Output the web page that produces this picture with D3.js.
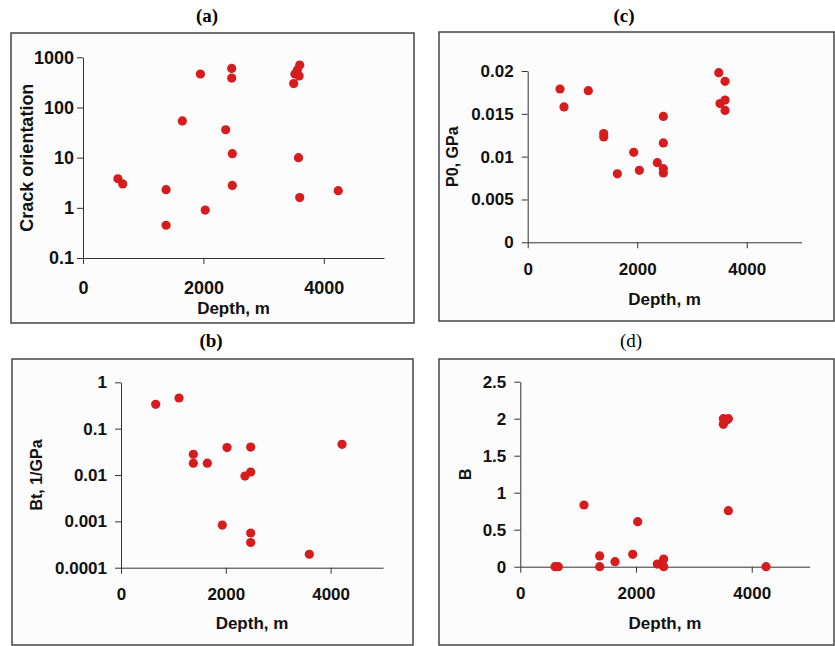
<!DOCTYPE html>
<html>
<head>
<meta charset="utf-8">
<script src="https://cdn.jsdelivr.net/npm/d3@7"></script>
<style>
	body { margin: 0; background: white; }
	.tick text { font-family: 'Liberation Sans', Arial, sans-serif; font-weight: bold; fill: #111; }
	.domain, .tick line { stroke: #333; stroke-width: 1; }
</style>
</head>
<body>
<div id="chart"></div>
<script>
// x ticks shared by all four panels
let depthTicks = [0, 2000, 4000];

// (a) crack orientation
let depthA = [580, 660, 1380, 1380, 1650, 1950, 2030, 2370, 2470, 2470, 2480, 2480, 3500, 3520, 3560, 3590, 3600, 3580, 3600, 4240];
let crackOrientation = [3.8, 3.0, 2.3, 0.45, 54, 465, 0.9, 36, 600, 385, 12, 2.8, 300, 465, 560, 425, 700, 10, 1.6, 2.2];
let crackTicks = [0.1, 1, 10, 100, 1000];

// (b) Bt
let depthB = [662, 1107, 1380, 1380, 1647, 2023, 2475, 2366, 2475, 1933, 2475, 2475, 3594, 4218];
let btValues = [0.335, 0.458, 0.028, 0.018, 0.018, 0.039, 0.040, 0.0095, 0.0116, 0.00083, 0.00056, 0.00035, 0.000195, 0.046];
let btTicks = [0.0001, 0.001, 0.01, 0.1, 1];

// (c) P0
let depthC = [590, 663, 1107, 1388, 1388, 1637, 1936, 2039, 2367, 2477, 2477, 2477, 2477, 3489, 3604, 3512, 3604, 3604];
let p0Values = [0.0179, 0.0158, 0.0177, 0.0127, 0.0123, 0.0080, 0.0105, 0.0084, 0.0093, 0.0147, 0.0116, 0.0086, 0.0081, 0.0198, 0.0188, 0.0162, 0.0166, 0.0154];
let p0Ticks = [0, 0.005, 0.01, 0.015, 0.02];

// (d) B
let depthD = [600, 657, 1101, 1372, 1372, 1637, 1943, 2029, 2368, 2432, 2478, 2478, 3509, 3509, 3596, 3560, 3596, 4247];
let bValues = [0, 0, 0.834, 0.145, 0, 0.068, 0.167, 0.608, 0.036, 0.036, 0.104, 0, 1.924, 2.0, 2.0, 1.98, 0.757, 0];
let bTicks = [0, 0.5, 1, 1.5, 2, 2.5];

let svg = d3.select('#chart').append('svg')
	.attr('width', 835)
	.attr('height', 646);

let defs = svg.append('defs');
defs.append('filter')
	.attr('id', 'soft')
	.append('feGaussianBlur')
	.attr('stdDeviation', 0.6);

let panels = [
	{ title: '(a)', bold: true, tx: 207, ty: 15, frame: [11, 33, 403, 290], x0: 83, x1: 384, yTop: 57.3, yBot: 258,
		log: true, domain: [0.1, 1000], ticks: crackTicks, xs: depthA, ys: crackOrientation,
		ylabel: 'Crack orientation', lx: 27, xlabelY: 308, font: 18, xPad: 17, yPad: 3 },
	{ title: '(c)', bold: true, tx: 624, ty: 15, frame: [439, 32, 395, 289], x0: 527.7, x1: 801.5, yTop: 71, yBot: 242.3,
		log: false, domain: [0, 0.02], ticks: p0Ticks, xs: depthC, ys: p0Values,
		ylabel: 'P0, GPa', lx: 452, xlabelY: 299, font: 17, xPad: 15, yPad: 8 },
	{ title: '(b)', bold: true, tx: 211, ty: 340, frame: [12, 359, 401, 286], x0: 121, x1: 383, yTop: 382.3, yBot: 567.7,
		log: true, domain: [0.0001, 1], ticks: btTicks, xs: depthB, ys: btValues,
		ylabel: 'Bt, 1/GPa', lx: 36, xlabelY: 623, font: 17, xPad: 14, yPad: 8 },
	{ title: '(d)', bold: false, tx: 631, ty: 340, frame: [439, 359, 395, 286], x0: 520.3, x1: 809.6, yTop: 381.7, yBot: 566.7,
		log: false, domain: [0, 2.5], ticks: bTicks, xs: depthD, ys: bValues,
		ylabel: 'B', lx: 465, xlabelY: 623, font: 17, xPad: 14, yPad: 8 }
];

panels.forEach(p => {
	let g = svg.append('g');

	g.append('rect')
		.attr('x', p.frame[0])
		.attr('y', p.frame[1])
		.attr('width', p.frame[2])
		.attr('height', p.frame[3])
		.attr('fill', '#fcfcfc')
		.attr('stroke', '#444')
		.attr('stroke-width', 1.5);

	g.append('text')
		.attr('x', p.tx)
		.attr('y', p.ty)
		.attr('dy', '0.35em')
		.attr('text-anchor', 'middle')
		.attr('font-family', "'Liberation Serif', 'Times New Roman', serif")
		.attr('font-size', '19px')
		.attr('font-weight', p.bold ? 'bold' : 'normal')
		.text(p.title);

	let x = d3.scaleLinear()
		.domain([0, 5000])
		.range([p.x0, p.x1]);
	let y = (p.log ? d3.scaleLog() : d3.scaleLinear())
		.domain(p.domain)
		.range([p.yBot, p.yTop]);

	let axis_x = d3.axisBottom()
		.scale(x)
		.tickValues(depthTicks)
		.tickSize(6)
		.tickSizeOuter(0)
		.tickPadding(p.xPad)
		.tickFormat(d => d);
	let axis_y = d3.axisLeft()
		.scale(y)
		.tickValues(p.ticks)
		.tickSize(6)
		.tickSizeOuter(0)
		.tickPadding(p.yPad)
		.tickFormat(d3.format('~g'));

	g.append('g')
		.attr('transform', `translate(0, ${p.yBot})`)
		.call(axis_x)
		.selectAll('text')
		.style('font-size', p.font + 'px');

	g.append('g')
		.attr('transform', `translate(${p.x0}, 0)`)
		.call(axis_y)
		.selectAll('text')
		.style('font-size', p.font + 'px');

	g.append('text')
		.attr('x', (p.x0 + p.x1) / 2)
		.attr('y', p.xlabelY)
		.attr('dy', '0.35em')
		.attr('text-anchor', 'middle')
		.attr('font-family', "'Liberation Sans', Arial, sans-serif")
		.attr('font-weight', 'bold')
		.attr('font-size', '17px')
		.attr('fill', '#111')
		.text('Depth, m');

	g.append('text')
		.attr('transform', `translate(${p.lx}, ${(p.yTop + p.yBot) / 2}) rotate(-90)`)
		.attr('dy', '0.35em')
		.attr('text-anchor', 'middle')
		.attr('font-family', "'Liberation Sans', Arial, sans-serif")
		.attr('font-weight', 'bold')
		.attr('font-size', p.title == '(a)' ? '18px' : '16px')
		.attr('fill', '#111')
		.text(p.ylabel);

	g.selectAll('circle.point')
		.data(p.xs.map((d, i) => [d, p.ys[i]]))
		.enter()
		.append('circle')
		.classed('point', true)
		.attr('cx', d => x(d[0]))
		.attr('cy', d => y(d[1]))
		.attr('r', 4.6)
		.attr('fill', '#d61a1f')
		.attr('filter', 'url(#soft)');
});
</script>
</body>
</html>
